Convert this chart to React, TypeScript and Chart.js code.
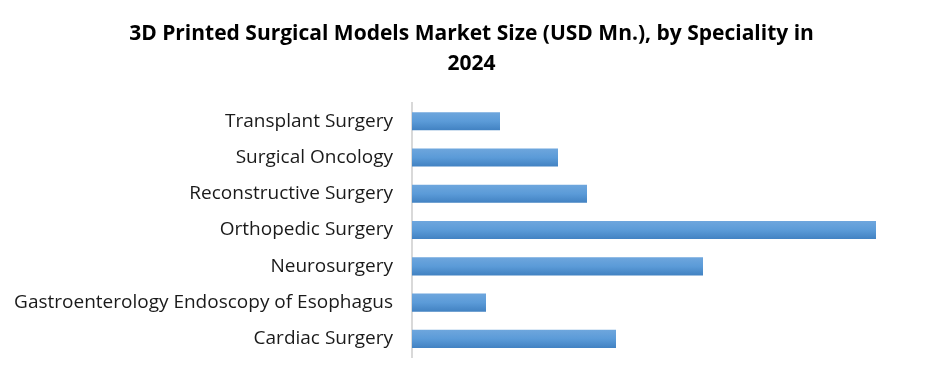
import React, { useEffect, useRef } from "react";
import { Chart, registerables } from "chart.js";

Chart.register(...registerables);

const titleLines = ["3D Printed Surgical Models Market Size (USD Mn.), by Speciality in", "2024"];
const categories = [
  "Transplant Surgery",
  "Surgical Oncology",
  "Reconstructive Surgery",
  "Orthopedic Surgery",
  "Neurosurgery",
  "Gastroenterology Endoscopy of Esophagus",
  "Cardiac Surgery",
];
const values = [17.6, 29.2, 35.0, 92.8, 58.2, 14.8, 40.8];
const axisMax = 106.2;

export default function App() {
  const ref = useRef<HTMLCanvasElement | null>(null);
  useEffect(() => {
    if (!ref.current) return;
    const chart = new Chart(ref.current, {
      type: "bar",
      data: {
        labels: categories,
        datasets: [
          {
            data: values,
            backgroundColor: (ctx: any) => {
              const c = ctx.chart;
              const ys = c.scales && c.scales.y;
              if (!c.chartArea || !ys || ctx.dataIndex === undefined) return "#5b9bd5";
              const y = ys.getPixelForValue(ctx.dataIndex);
              const g = c.ctx.createLinearGradient(0, y - 9, 0, y + 9);
              g.addColorStop(0, "#6ea6dd");
              g.addColorStop(0.5, "#5b9bd8");
              g.addColorStop(1, "#4282c2");
              return g;
            },
            borderWidth: 0,
            barPercentage: 0.5,
            categoryPercentage: 1,
          },
        ],
      },
      options: {
        indexAxis: "y",
        animation: false,
        responsive: false,
        layout: { padding: { left: 0, right: 0, top: 0, bottom: 23 } },
        plugins: {
          legend: { display: false },
          tooltip: { enabled: false },
          title: {
            display: true,
            text: titleLines,
            color: "#000000",
            font: { family: "Open Sans", size: 21, weight: "bold", lineHeight: 1.43 },
            padding: { top: 19, bottom: 24 },
          },
        },
        scales: {
          x: { display: false, min: 0, max: axisMax },
          y: {
            afterFit: (s: any) => {
              s.width = 412;
              s.paddingTop = 0;
              s.paddingBottom = 0;
            },
            grid: { display: false, drawTicks: false },
            border: { display: true, color: "#d9d9d9", width: 2 },
            ticks: {
              color: "#1a1a1a",
              padding: 19,
              font: { family: "Open Sans", size: 19 },
            },
          },
        },
      },
    });
    return () => chart.destroy();
  }, []);
  return (
    <div style={{ position: "fixed", left: 0, top: 0, width: 943, height: 380, background: "#fff" }}>
      <canvas ref={ref} width={943} height={380} style={{ width: 943, height: 380, display: "block" }} />
    </div>
  );
}
